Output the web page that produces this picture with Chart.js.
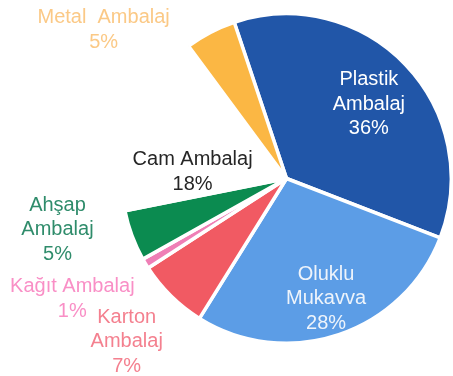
<!DOCTYPE html>
<html>
<head>
<meta charset="utf-8">
<script src="https://cdn.jsdelivr.net/npm/chart.js@4/dist/chart.umd.min.js"></script>
<style>
  html, body { margin: 0; padding: 0; background: #fff; }
  #wrap { width: 453px; height: 376px; position: relative; }
</style>
</head>
<body>
<div id="wrap"><canvas id="pie"></canvas></div>
<script>
// ambalaj türlerine göre pay (%), saat yönünde
const labels = ['Plastik Ambalaj', 'Oluklu Mukavva', 'Karton Ambalaj', 'Kağıt Ambalaj', 'Ahşap Ambalaj', 'Cam Ambalaj', 'Metal  Ambalaj'];
const values = [36, 28, 7, 1, 5, 18, 5];
const labelLines = [
  ['Plastik', 'Ambalaj'],
  ['Oluklu', 'Mukavva'],
  ['Karton', 'Ambalaj'],
  ['Kağıt Ambalaj'],
  ['Ahşap', 'Ambalaj'],
  ['Cam Ambalaj'],
  ['Metal  Ambalaj']
];

const sliceColors = ['#2156a8', '#5c9de6', '#f15a63', '#ef7fb6', '#0b8b50', '#ffffff', '#fbb744'];
const textColors = ['#ffffff', '#eef4fb', '#f4808f', '#f98fc6', '#2f8c6b', '#262626', '#fbc986'];
// label centre relative to pie centre, in units of the radius
const labelOffset = [
  [0.50, -0.45], [0.24, 0.73], [-0.97, 0.99], [-1.30, 0.73],
  [-1.39, 0.31], [-0.57, -0.04], [-1.11, -0.90]
];

const sliceLabels = {
  id: 'sliceLabels',
  afterDatasetsDraw(chart) {
    const ctx = chart.ctx;
    const arcs = chart.getDatasetMeta(0).data;
    const cx = arcs[0].x, cy = arcs[0].y, r = arcs[0].outerRadius;
    ctx.save();
    ctx.font = '20px "Liberation Sans", Arial, sans-serif';
    ctx.textAlign = 'center';
    ctx.textBaseline = 'middle';
    const lh = 24.5;
    values.forEach((v, i) => {
      const lines = labelLines[i].concat([v + '%']);
      const x = cx + labelOffset[i][0] * r;
      const y0 = cy + labelOffset[i][1] * r - (lines.length - 1) * lh / 2;
      ctx.fillStyle = textColors[i];
      lines.forEach((t, k) => ctx.fillText(t, x, y0 + k * lh));
    });
    ctx.restore();
  }
};

new Chart(document.getElementById('pie'), {
  type: 'pie',
  data: {
    labels: labels,
    datasets: [{
      data: values,
      backgroundColor: sliceColors,
      borderColor: '#ffffff',
      borderWidth: 3.5
    }]
  },
  options: {
    responsive: true,
    maintainAspectRatio: false,
    animation: false,
    rotation: -18.5,
    layout: { padding: { left: 120, right: 0, top: 12, bottom: 31 } },
    plugins: {
      legend: { display: false },
      tooltip: { enabled: false }
    }
  },
  plugins: [sliceLabels]
});
</script>
</body>
</html>
